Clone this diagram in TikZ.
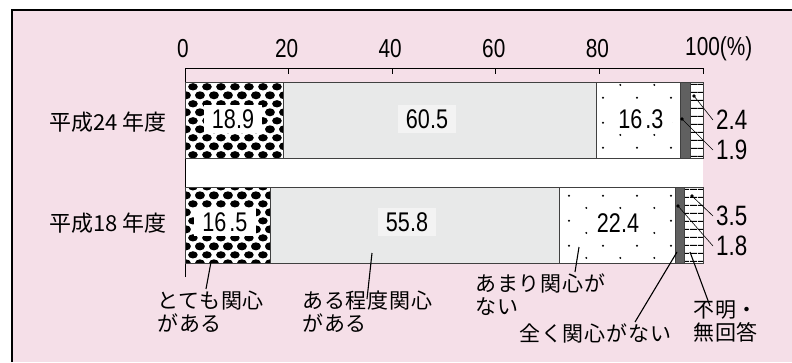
\documentclass[tikz,border=0pt]{standalone}
\usepackage{fontspec}
\setmainfont{Liberation Sans}
\newfontfamily\jpfont[LetterSpace=4]{Noto Sans CJK JP}
\newfontfamily\rowfont{Noto Sans CJK JP}
\newfontfamily\numfont[FakeStretch=0.8]{Liberation Sans}
\usetikzlibrary{patterns}
\usetikzlibrary{positioning}

\definecolor{pinkbg}{HTML}{F5DFE8}
\definecolor{bargray}{HTML}{E8E9E9}
\definecolor{boxgray}{HTML}{F3F3F3}
\definecolor{darkseg}{HTML}{606060}

% fill patterns of the bar segments
\pgfdeclarepatternformonly{ovals}{\pgfpointorigin}{\pgfpoint{14.4pt}{16.6pt}}{\pgfpoint{14.4pt}{16.6pt}}{
    \pgfpathellipse{\pgfpoint{0pt}{0pt}}{\pgfpoint{5pt}{0pt}}{\pgfpoint{0pt}{3.7pt}}
    \pgfpathellipse{\pgfpoint{14.4pt}{0pt}}{\pgfpoint{5pt}{0pt}}{\pgfpoint{0pt}{3.7pt}}
    \pgfpathellipse{\pgfpoint{0pt}{16.6pt}}{\pgfpoint{5pt}{0pt}}{\pgfpoint{0pt}{3.7pt}}
    \pgfpathellipse{\pgfpoint{14.4pt}{16.6pt}}{\pgfpoint{5pt}{0pt}}{\pgfpoint{0pt}{3.7pt}}
    \pgfpathellipse{\pgfpoint{7.2pt}{8.3pt}}{\pgfpoint{5pt}{0pt}}{\pgfpoint{0pt}{3.7pt}}
    \pgfusepath{fill}
}
\pgfdeclarepatternformonly{sparsedots}{\pgfpointorigin}{\pgfpoint{34pt}{24.6pt}}{\pgfpoint{34pt}{24.6pt}}{
    \pgfpathcircle{\pgfpoint{8.5pt}{6.15pt}}{1.1pt}
    \pgfpathcircle{\pgfpoint{25.5pt}{18.45pt}}{1.1pt}
    \pgfusepath{fill}
}
\pgfdeclarepatternformonly{hlines}{\pgfpointorigin}{\pgfpoint{7.5pt}{7.5pt}}{\pgfpoint{7.5pt}{7.5pt}}{
    \pgfpathrectangle{\pgfpoint{0pt}{3.2pt}}{\pgfpoint{7.5pt}{1.1pt}}
    \pgfusepath{fill}
}

\tikzset{
    barseg/.style = {draw=black!75, line width=0.8pt},
    ovalseg/.style = {barseg, preaction={fill=white}, pattern=ovals},
    grayseg/.style = {barseg, fill=bargray},
    dotseg/.style = {barseg, preaction={fill=white}, pattern=sparsedots},
    darkseg/.style = {barseg, fill=darkseg},
    lineseg/.style = {barseg, preaction={fill=white}, pattern=hlines},
    axisnum/.style = {font=\numfont\fontsize{26}{28}\selectfont, inner sep=0pt},
    value/.style = {font=\numfont\fontsize{27}{29}\selectfont, fill=white, inner xsep=8pt, inner ysep=4pt},
    sidelabel/.style = {font=\numfont\fontsize{28}{30}\selectfont, anchor=west, inner sep=3pt},
    rowlabel/.style = {font=\rowfont\fontsize{22}{24}\selectfont, anchor=east, inner sep=0pt},
    catlabel/.style = {font=\jpfont\fontsize{21}{23}\selectfont, align=left, anchor=north west, inner sep=2pt},
    leader/.style = {line width=1.1pt},
    thinleader/.style = {line width=0.6pt},
    pin/.style = {fill=black}
}

\begin{document}
\begin{tikzpicture}[x=1pt, y=-1pt]
    \useasboundingbox (0,0) rectangle (792,362);
    \fill[pinkbg] (12,10) rectangle (792,362);
    \draw[line width=1.4pt] (12,362) -- (12,10) -- (792,10);

    % axis
    \fill[white] (185,158) rectangle (703,187);
    \draw[line width=1pt] (185,277) -- (185,68) -- (703,68);
    \foreach \v in {20,40,...,100}
        \draw[line width=1pt] ({185+5.18*\v},68) -- ++(0,6);
    \foreach \v in {0,20,40,60,80}
        \node[axisnum] (ax\v) at ({183+5.18*\v},49) {\v};
    \node[axisnum, anchor=west] (ax100) at (685,49) {100(\%)};

    % bars
    \foreach \a/\b/\s in {0/18.9/ovalseg, 18.9/79.4/grayseg, 79.4/95.7/dotseg, 95.7/97.6/darkseg, 97.6/100/lineseg}
        \draw[\s] ({185+5.18*\a},82) rectangle ({185+5.18*\b},158);
    \foreach \a/\b/\s in {0/16.5/ovalseg, 16.5/72.3/grayseg, 72.3/94.7/dotseg, 94.7/96.5/darkseg, 96.5/100/lineseg}
        \draw[\s] ({185+5.18*\a},187) rectangle ({185+5.18*\b},263);

    \node[rowlabel] (row24) at (167,122) {平成24 年度};
    \node[rowlabel] (row18) at (167,223) {平成18 年度};

    % values in the bars
    \node[value] (v189) at (233,119) {18.9};
    \node[value, fill=boxgray] (v605) at (427,119) {60.5};
    \node[value] (v163) at (641,119) {16\hspace{3pt}.3};
    \node[value] (v165) at (225,222) {16\hspace{3pt}.5};
    \node[value, fill=boxgray] (v558) at (407,222) {55.8};
    \node[value] (v224) at (618,223) {22.4};

    % small values at the right
    \coordinate (d24) at (694,96);
    \coordinate (d19) at (682,119);
    \coordinate (d35) at (692,196);
    \coordinate (d18) at (678,206);
    \node[sidelabel] (s24) at (713,120) {2.4};
    \node[sidelabel] (s19) at (713,150) {1.9};
    \node[sidelabel] (s35) at (713,216) {3.5};
    \node[sidelabel] (s18) at (713,246) {1.8};
    \foreach \d/\s in {d24/s24, d19/s19, d35/s35, d18/s18}{
        \fill[pin] (\d) circle (1.8);
        \draw[thinleader] (\d) -- (\s.west);
    }

    % category labels below
    \node[catlabel] (cat1) at (155,289) {とても関心\\がある};
    \node[catlabel] (cat2) at (300,289) {ある程度関心\\がある};
    \node[catlabel] (cat3) at (473,272) {あまり関心が\\ない};
    \node[catlabel] (cat4) at (517,322) {全く関心がない};
    \node[catlabel] (cat5) at (691,299) {不明・\\無回答};

    \coordinate (c1) at (211,262);
    \coordinate (c2) at (372,253);
    \coordinate (c3) at (579,247);
    \coordinate (c4) at (677,252);
    \coordinate (c5) at (690,252);
    \draw[leader] (c1) -- ([xshift=-5pt]c1 |- cat1.north);
    \draw[leader] (c2) -- ([xshift=-5pt,yshift=-10pt]c2 |- cat2.north);
    \draw[leader] (c3) -- ([xshift=-4pt]c3 |- cat3.north);
    \draw[leader] (c4) -- ([xshift=-42pt]c4 |- cat4.north);
    \draw[leader] (c5) -- ([xshift=20pt,yshift=-7pt]c5 |- cat5.north);
\end{tikzpicture}
\end{document}
